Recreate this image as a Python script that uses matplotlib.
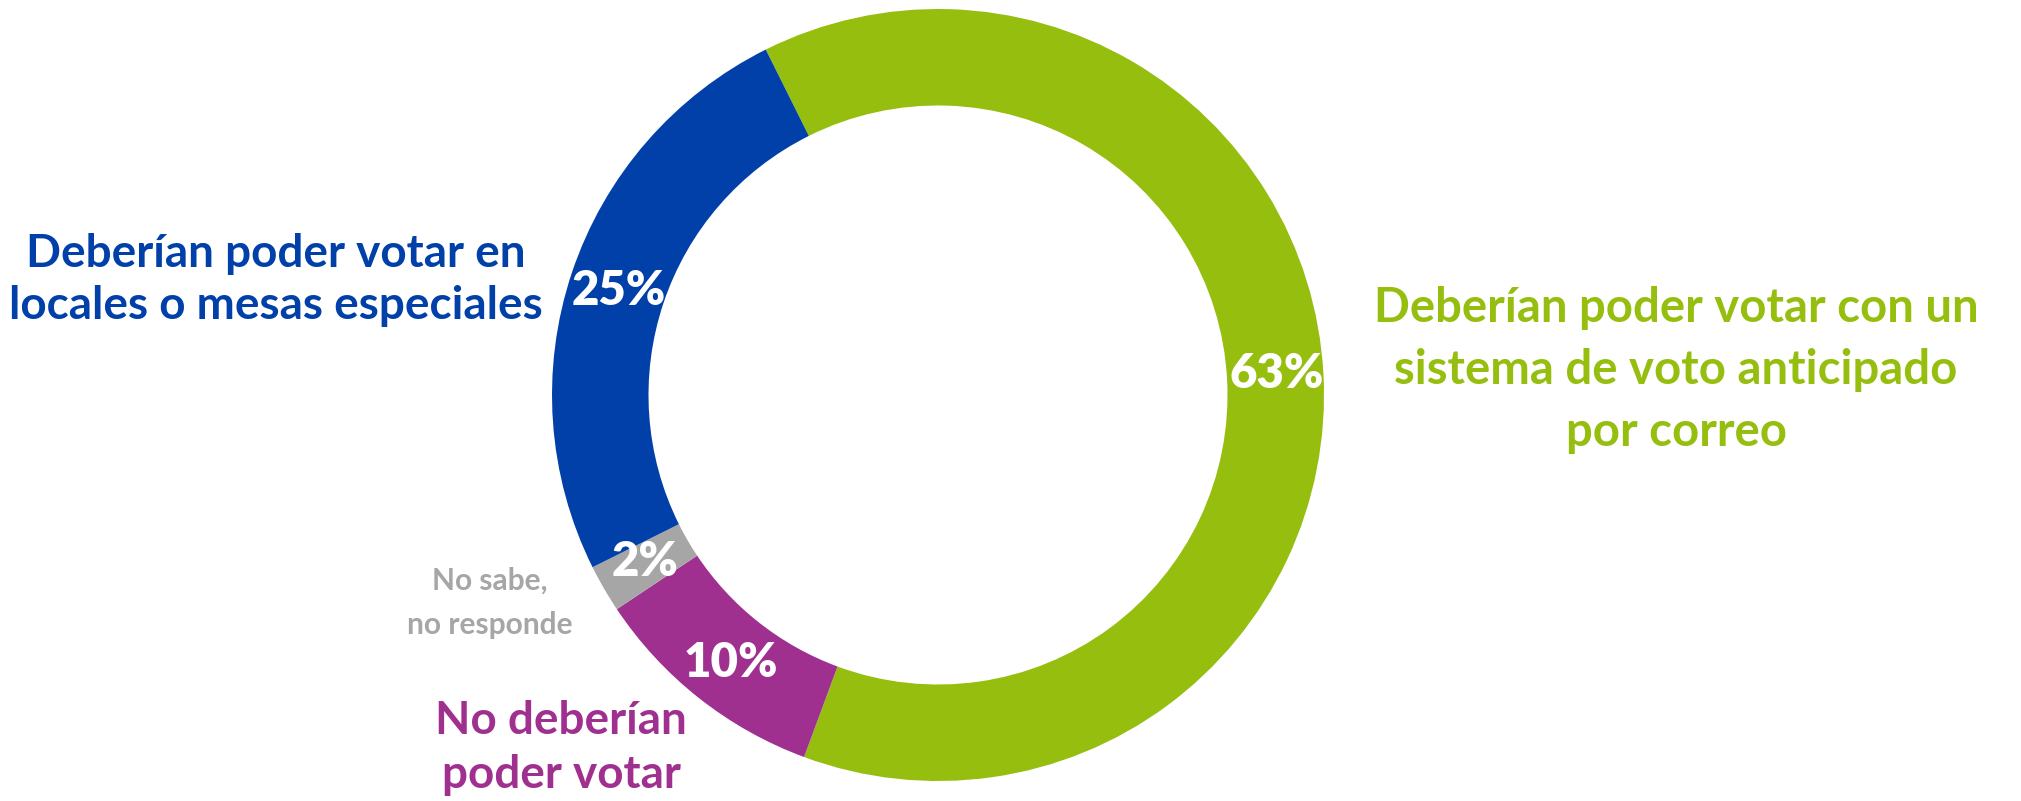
import matplotlib
matplotlib.use("Agg")
import matplotlib.pyplot as plt

plt.rcParams['font.family'] = ['Lato', 'DejaVu Sans']

# Datos de la encuesta
categorias = ['Deberían poder votar con un\nsistema de voto anticipado\npor correo',
              'No deberían\npoder votar',
              'No sabe,\nno responde',
              'Deberían poder votar en\nlocales o mesas especiales']
valores = [63, 10, 2, 25]
colores = ['#96BE0F', '#A0308F', '#A6A6A6', '#0040A8']

# Posiciones de las etiquetas (en pixeles de la figura)
pos_etiquetas = [(1676, 370), (561, 748), (490, 603), (276, 280)]
tam_etiquetas = [34, 33, 21.5, 33]
interlineado = [1.5, 1.34, 1.72, 1.31]
pos_porcentajes = [(1277, 374), (731, 663), (645, 562), (619, 291)]

fig = plt.figure(figsize=(20.21, 8.01), dpi=100)
ax = fig.add_axes([0, 0, 1, 1])

centro = (938, 395)
radio = 386
wedges, _ = ax.pie(valores, colors=colores, startangle=116.5, counterclock=False,
                   center=centro, radius=radio, frame=True,
                   wedgeprops=dict(width=radio * 0.25, linewidth=0))
ax.set_xlim(0, 2021)
ax.set_ylim(801, 0)
ax.set_aspect('equal')
ax.axis('off')

# El eje y esta invertido: reflejar la dona para conservar el sentido horario
for w in wedges:
    w.set_transform(matplotlib.transforms.Affine2D().scale(1, -1).translate(0, 2 * centro[1]) + ax.transData)

for (x, y), v in zip(pos_porcentajes, valores):
    ax.text(x, y, f'{v}%', color='white', fontsize=34, fontweight='heavy',
            ha='center', va='center')

for (x, y), texto, c, tam, ls in zip(pos_etiquetas, categorias, colores, tam_etiquetas, interlineado):
    ax.text(x, y, texto, color=c, fontsize=tam, fontweight='bold',
            ha='center', va='center', linespacing=ls)

plt.savefig('out.png', dpi=100)
